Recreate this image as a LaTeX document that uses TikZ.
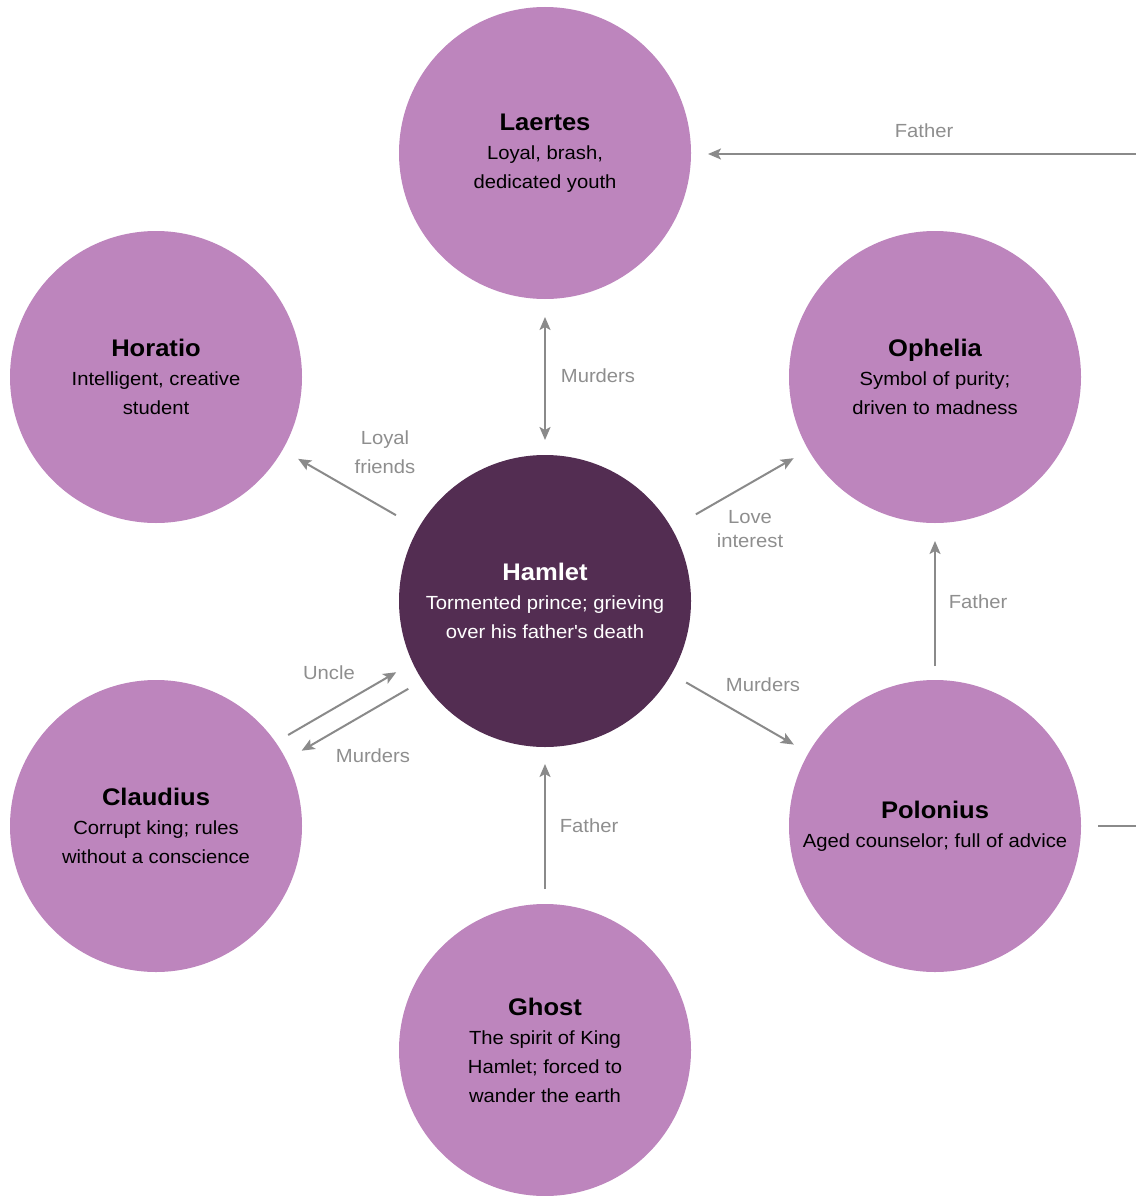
\documentclass[tikz,border=0pt]{standalone}
\usepackage{fontspec}
\setmainfont{Liberation Sans}[FakeStretch=1.065]
\usepackage{tikz}
\usetikzlibrary{arrows.meta,positioning}
\definecolor{hmpurple}{HTML}{BD85BD}
\definecolor{hmdark}{HTML}{532D52}
\definecolor{hmgrey}{HTML}{8A8A8A}
\definecolor{hmlabel}{HTML}{8E8E8E}
\tikzstyle{role} = [circle, minimum size=292pt, inner sep=0pt, outer sep=0pt, fill=hmpurple, text=black, align=center, font=\fontsize{19}{29}\selectfont]
\tikzstyle{hero} = [role, fill=hmdark, text=white]
\tikzstyle{link} = [line width=2pt, draw=hmgrey, -{Stealth[length=13pt,width=11pt,inset=3pt]}]
\tikzstyle{twoway} = [link, {Stealth[length=13pt,width=11pt,inset=3pt]}-{Stealth[length=13pt,width=11pt,inset=3pt]}]
\tikzstyle{tag} = [text=hmlabel, align=center, font=\fontsize{19}{29}\selectfont]
\newcommand{\who}[1]{{\fontsize{24}{29}\selectfont\bfseries #1}\\}

\begin{document}
\begin{tikzpicture}[x=1pt,y=-1pt]
\useasboundingbox (0,0) rectangle (1135,1196);

% characters
\node[role] (laertes) at (545,153) {\who{Laertes}Loyal, brash,\\dedicated youth};
\node[role] (horatio) at (156,377) {\who{Horatio}Intelligent, creative\\student};
\node[role] (ophelia) at (935,377) {\who{Ophelia}Symbol of purity;\\driven to madness};
\node[hero] (hamlet) at (545,601) {\who{Hamlet}Tormented prince; grieving\\over his father\textquotesingle s death};
\node[role] (claudius) at (156,826) {\who{Claudius}Corrupt king; rules\\without a conscience};
\node[role] (polonius) at (935,826) {\who{Polonius}Aged counselor; full of advice};
\node[role] (ghost) at (545,1050) {\who{Ghost}The spirit of King\\Hamlet; forced to\\wander the earth};

% relations
\draw[link, shorten <=17pt, shorten >=17pt] (polonius.east) -- ++(60,0) |- ([yshift=-1pt]laertes.east);
\draw[twoway, shorten <=18pt, shorten >=15pt] (laertes) -- (hamlet);
\draw[link, shorten <=26pt, shorten >=18pt] (hamlet) -- (horatio);
\draw[link, shorten <=28pt, shorten >=17pt] (hamlet) -- (ophelia);
\draw[link, shorten <=17pt, shorten >=17pt] (hamlet) -- (polonius);
\draw[link, shorten <=14pt, shorten >=18pt] (polonius) -- (ophelia);
\draw[link, shorten <=15pt, shorten >=17pt] (ghost) -- (hamlet);
\draw[link, shorten <=14.5pt, shorten >=19pt] (claudius.35) -- (hamlet.205);
\draw[link, shorten <=16.5pt, shorten >=18pt] (hamlet.213) -- (claudius.27);

% labels
\node[tag] (fatherlaertes) at (924,131) {Father};
\node[tag] (murderslaertes) at (598,376) {Murders};
\node[tag] (loyal) at (385,452) {Loyal\\friends};
\node[tag, font=\fontsize{19}{24}\selectfont] (love) at (750,529) {Love\\interest};
\node[tag] (fatherophelia) at (978,602) {Father};
\node[tag] (murderspolonius) at (763,685) {Murders};
\node[tag] (uncle) at (329,673) {Uncle};
\node[tag] (murdersclaudius) at (373,756) {Murders};
\node[tag] (fatherghost) at (589,826) {Father};
\end{tikzpicture}
\end{document}
